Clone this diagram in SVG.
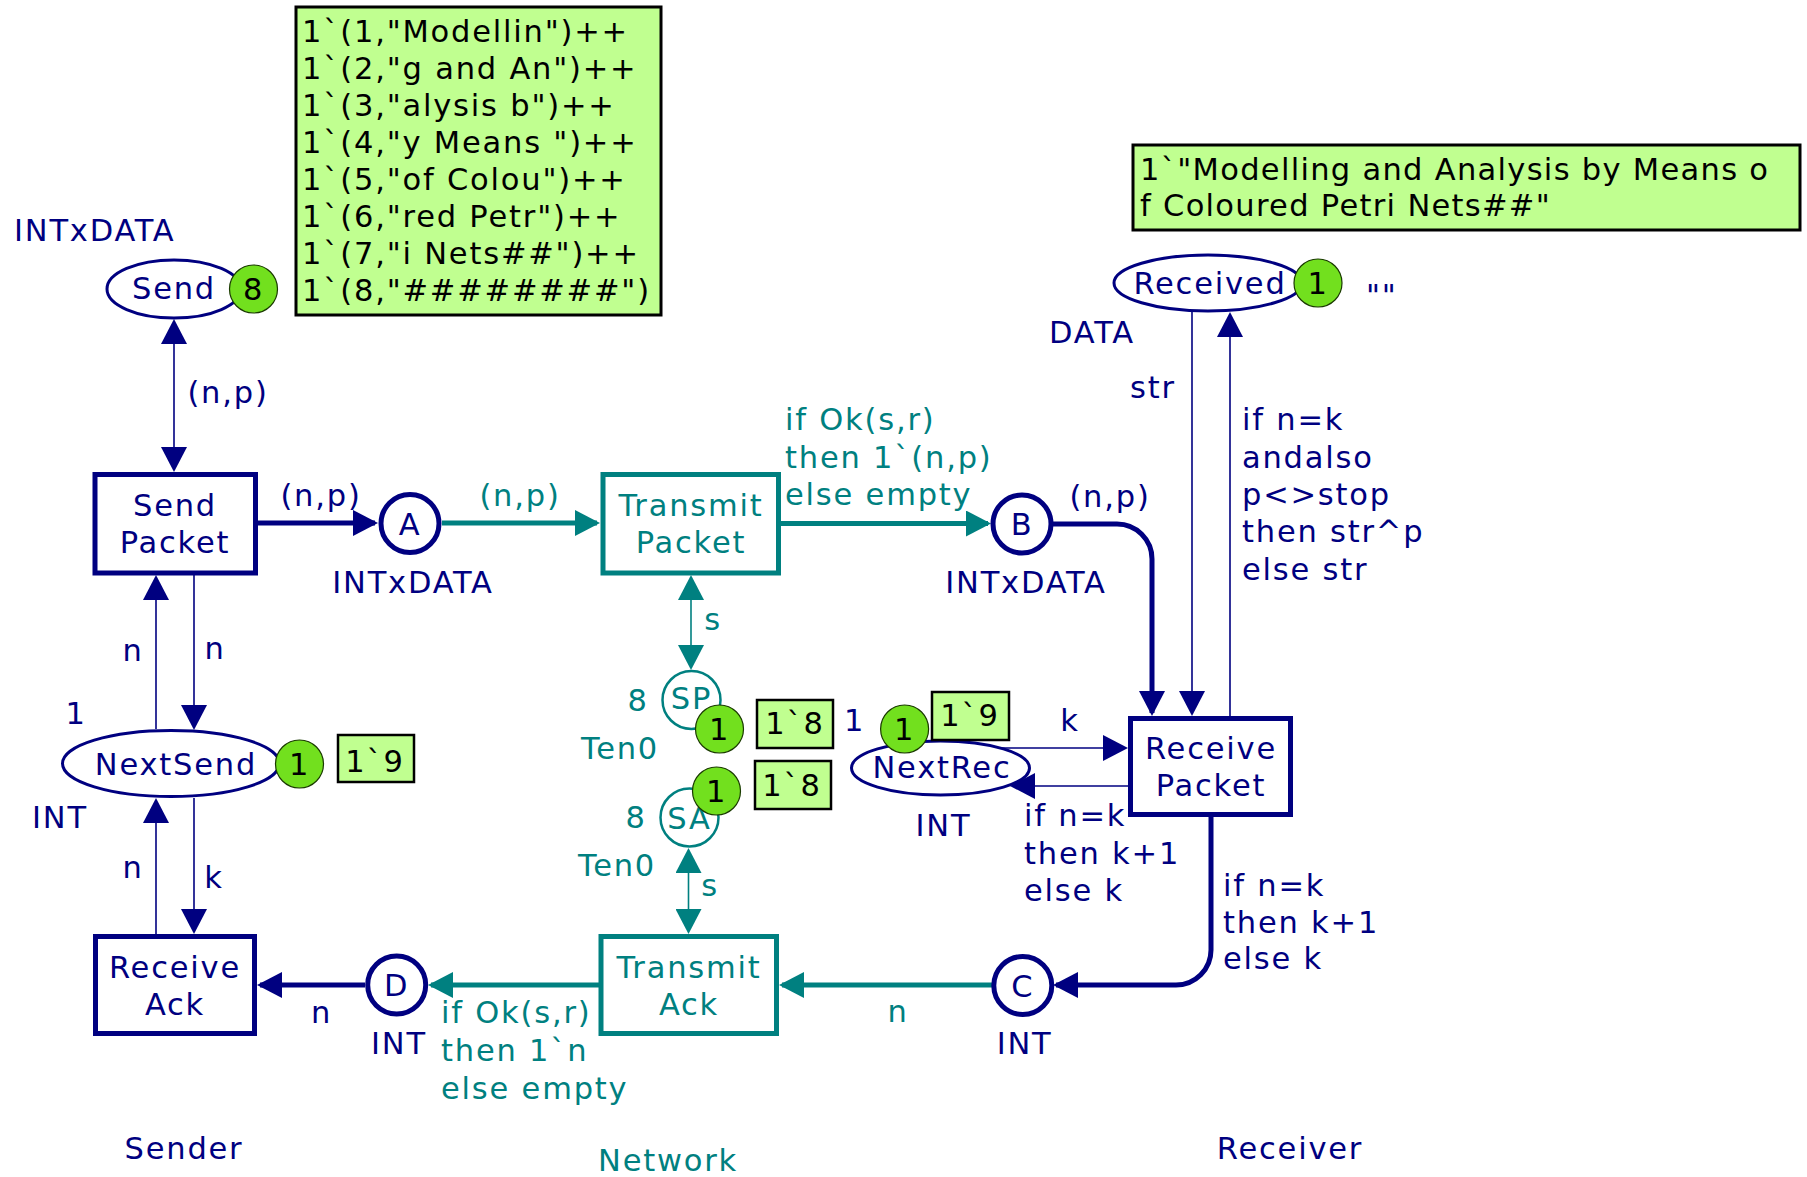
<svg xmlns="http://www.w3.org/2000/svg" width="1807" height="1177" viewBox="0 0 1807 1177">
<style>
text{font-family:"DejaVu Sans","Liberation Sans",sans-serif;font-size:30.5px;letter-spacing:1.8px}
.nv{fill:#000080}.tl{fill:#008080}.bk{fill:#000}
.m{text-anchor:middle}
.pl{fill:#fff;stroke:#000080;stroke-width:3}
.plb{fill:#fff;stroke:#000080;stroke-width:5}
.plt{fill:#fff;stroke:#008080;stroke-width:2.5}
.trn{fill:#fff;stroke:#000080;stroke-width:5}
.trt{fill:#fff;stroke:#008080;stroke-width:5}
.tok{fill:#72e01e;stroke:#1a3a00;stroke-width:1.2}
.box{fill:#c0ff90;stroke:#000;stroke-width:2.5}
.an{fill:none;stroke:#000080;stroke-width:1.6}
.ant{fill:none;stroke:#000080;stroke-width:5}
.at{fill:none;stroke:#008080;stroke-width:1.6}
.att{fill:none;stroke:#008080;stroke-width:5}
</style>
<defs>
<marker id="mn" viewBox="0 0 25 26" refX="22" refY="13" markerWidth="25" markerHeight="26" orient="auto-start-reverse" markerUnits="userSpaceOnUse"><path d="M0,0 L25,13 L0,26 z" fill="#000080"/></marker>
<marker id="mt" viewBox="0 0 25 26" refX="22" refY="13" markerWidth="25" markerHeight="26" orient="auto-start-reverse" markerUnits="userSpaceOnUse"><path d="M0,0 L25,13 L0,26 z" fill="#008080"/></marker>
</defs>

<g id="connectors">
<line class="an" x1="174" y1="469" x2="174" y2="322" marker-start="url(#mn)" marker-end="url(#mn)"/>
<line class="ant" x1="258" y1="523" x2="375" y2="523" marker-end="url(#mn)"/>
<line class="att" x1="442" y1="523" x2="597" y2="523" marker-end="url(#mt)"/>
<line class="att" x1="781" y1="523.5" x2="988" y2="523.5" marker-end="url(#mt)"/>
<path class="ant" d="M1053,524 H1117 A35,35 0 0 1 1152,559 V713" marker-end="url(#mn)"/>
<line class="an" x1="1192" y1="312" x2="1192" y2="713" marker-end="url(#mn)"/>
<line class="an" x1="1230" y1="716" x2="1230" y2="315" marker-end="url(#mn)"/>
<line class="an" x1="156" y1="729" x2="156" y2="578" marker-end="url(#mn)"/>
<line class="an" x1="194" y1="575" x2="194" y2="727" marker-end="url(#mn)"/>
<line class="an" x1="156" y1="934" x2="156" y2="801" marker-end="url(#mn)"/>
<line class="an" x1="194" y1="798" x2="194" y2="931" marker-end="url(#mn)"/>
<line class="ant" x1="365" y1="985" x2="260" y2="985" marker-end="url(#mn)"/>
<line class="att" x1="599" y1="985" x2="431" y2="985" marker-end="url(#mt)"/>
<line class="att" x1="992" y1="985" x2="782" y2="985" marker-end="url(#mt)"/>
<path class="ant" d="M1211,817 V950 A35,35 0 0 1 1176,985 H1056" marker-end="url(#mn)"/>
<line class="at" x1="691" y1="578" x2="691" y2="667" marker-start="url(#mt)" marker-end="url(#mt)"/>
<line class="at" x1="688.5" y1="851" x2="688.5" y2="931" marker-start="url(#mt)" marker-end="url(#mt)"/>
<line class="an" x1="1000" y1="748" x2="1125" y2="748" marker-end="url(#mn)"/>
<line class="an" x1="1128" y1="786" x2="1013" y2="786" marker-end="url(#mn)"/>
<g class="nv">
<text class="m" x="228" y="403">(n,p)</text>
<text class="m" x="321" y="506">(n,p)</text>
<text class="m" x="1110" y="507">(n,p)</text>
<text class="m" x="1153" y="398">str</text>
<text x="1242" y="430">if n=k</text>
<text x="1242" y="467.5">andalso</text>
<text x="1242" y="505">p&lt;&gt;stop</text>
<text x="1242" y="542">then str^p</text>
<text x="1242" y="579.5">else str</text>
<text class="m" x="133" y="661">n</text>
<text class="m" x="215" y="659">n</text>
<text class="m" x="133" y="878">n</text>
<text class="m" x="214" y="888">k</text>
<text class="m" x="321.5" y="1023">n</text>
<text class="m" x="1070" y="731">k</text>
<text x="1024" y="826">if n=k</text>
<text x="1024" y="863.5">then k+1</text>
<text x="1024" y="901">else k</text>
<text x="1223" y="896">if n=k</text>
<text x="1223" y="933">then k+1</text>
<text x="1223" y="969">else k</text>
</g>
<g class="tl">
<text class="m" x="520" y="506">(n,p)</text>
<text x="785" y="430">if Ok(s,r)</text>
<text x="785" y="467.5">then 1`(n,p)</text>
<text x="785" y="505">else empty</text>
<text x="441" y="1023">if Ok(s,r)</text>
<text x="441" y="1061">then 1`n</text>
<text x="441" y="1099">else empty</text>
<text class="m" x="898" y="1022">n</text>
<text class="m" x="713" y="630">s</text>
<text class="m" x="710" y="896">s</text>
</g>
</g>

<g id="initmark-send">
<rect class="box" x="296" y="7" width="365" height="308" style="stroke-width:3"/>
<g class="bk">
<text x="302" y="42">1`(1,"Modellin")++</text>
<text x="302" y="79">1`(2,"g and An")++</text>
<text x="302" y="116">1`(3,"alysis b")++</text>
<text x="302" y="153">1`(4,"y Means ")++</text>
<text x="302" y="190">1`(5,"of Colou")++</text>
<text x="302" y="227">1`(6,"red Petr")++</text>
<text x="302" y="264">1`(7,"i Nets##")++</text>
<text x="302" y="301">1`(8,"########")</text>
</g>
</g>

<g id="marking-received">
<rect class="box" x="1133" y="145" width="667" height="85" style="stroke-width:3"/>
<text class="bk" x="1140" y="180" style="letter-spacing:1.3px">1`"Modelling and Analysis by Means o</text>
<text class="bk" x="1140" y="216" style="letter-spacing:1.3px">f Coloured Petri Nets##"</text>
</g>

<g id="Send">
<ellipse class="pl" cx="174" cy="289" rx="67" ry="29"/>
<text class="nv m" x="174" y="299">Send</text>
<text class="nv" x="14" y="241">INTxDATA</text>
<circle class="tok" cx="253.5" cy="289" r="24"/>
<text class="bk m" x="253.5" y="300">8</text>
</g>

<g id="SendPacket">
<rect class="trn" x="95" y="474.5" width="160.5" height="98.5"/>
<text class="nv m" x="175" y="516">Send</text>
<text class="nv m" x="175" y="553">Packet</text>
</g>

<g id="A">
<circle class="plb" cx="410" cy="523.5" r="29"/>
<text class="nv m" x="410" y="535">A</text>
<text class="nv m" x="413" y="593">INTxDATA</text>
</g>

<g id="TransmitPacket">
<rect class="trt" x="603" y="474.5" width="175.5" height="98.5"/>
<text class="tl m" x="691" y="516">Transmit</text>
<text class="tl m" x="691" y="553">Packet</text>
</g>

<g id="B">
<circle class="plb" cx="1022" cy="524" r="29"/>
<text class="nv m" x="1022" y="535">B</text>
<text class="nv m" x="1026" y="593">INTxDATA</text>
</g>

<g id="Received">
<ellipse class="pl" cx="1208" cy="283" rx="94" ry="28"/>
<text class="nv m" x="1210" y="294">Received</text>
<text class="nv m" x="1092" y="343">DATA</text>
<circle class="tok" cx="1318" cy="283" r="24"/>
<text class="bk m" x="1318" y="294">1</text>
<text class="nv" x="1366" y="306">""</text>
</g>

<g id="ReceivePacket">
<rect class="trn" x="1130.5" y="718.5" width="160" height="96"/>
<text class="nv m" x="1211" y="759">Receive</text>
<text class="nv m" x="1211" y="796">Packet</text>
</g>

<g id="NextSend">
<ellipse class="pl" cx="171" cy="763.5" rx="108.5" ry="33"/>
<text class="nv m" x="176" y="775">NextSend</text>
<text class="nv m" x="76" y="724">1</text>
<text class="nv m" x="60" y="828">INT</text>
<circle class="tok" cx="299.5" cy="764" r="24"/>
<text class="bk m" x="299.5" y="775">1</text>
<rect class="box" x="338" y="735" width="76" height="47"/>
<text class="bk m" x="375" y="772">1`9</text>
</g>

<g id="ReceiveAck">
<rect class="trn" x="95.5" y="936.5" width="159" height="97"/>
<text class="nv m" x="175" y="978">Receive</text>
<text class="nv m" x="175" y="1015">Ack</text>
</g>

<g id="D">
<circle class="plb" cx="396.7" cy="985" r="29"/>
<text class="nv m" x="396.7" y="996">D</text>
<text class="nv m" x="399" y="1054">INT</text>
</g>

<g id="TransmitAck">
<rect class="trt" x="601" y="936.5" width="175.5" height="97"/>
<text class="tl m" x="689" y="978">Transmit</text>
<text class="tl m" x="689" y="1015">Ack</text>
</g>

<g id="C">
<circle class="plb" cx="1022.8" cy="985.5" r="29"/>
<text class="nv m" x="1022.8" y="997">C</text>
<text class="nv m" x="1024.6" y="1054">INT</text>
</g>

<g id="SP">
<circle class="plt" cx="691.5" cy="700" r="29"/>
<text class="tl m" x="691.5" y="709">SP</text>
<text class="tl m" x="638" y="711">8</text>
<text class="tl m" x="620" y="759">Ten0</text>
<circle class="tok" cx="719.5" cy="729" r="24"/>
<text class="bk m" x="719.5" y="740">1</text>
<rect class="box" x="757" y="700" width="76" height="48"/>
<text class="bk m" x="795" y="734">1`8</text>
</g>

<g id="SA">
<circle class="plt" cx="689.5" cy="817.5" r="29"/>
<text class="tl m" x="689.5" y="829">SA</text>
<text class="tl m" x="636" y="828">8</text>
<text class="tl m" x="617" y="876">Ten0</text>
<circle class="tok" cx="716.5" cy="791" r="24"/>
<text class="bk m" x="716.5" y="802">1</text>
<rect class="box" x="755" y="761" width="76" height="48"/>
<text class="bk m" x="792" y="796">1`8</text>
</g>

<g id="NextRec">
<ellipse class="pl" cx="940.5" cy="768" rx="89" ry="27"/>
<text class="nv m" x="942" y="778">NextRec</text>
<text class="nv m" x="854.5" y="731">1</text>
<text class="nv m" x="943.5" y="836">INT</text>
<circle class="tok" cx="904.6" cy="729" r="24"/>
<text class="bk m" x="904.6" y="740">1</text>
<rect class="box" x="932" y="692" width="77" height="48"/>
<text class="bk m" x="970" y="726">1`9</text>
</g>

<g id="labels">
<text class="nv m" x="184" y="1159">Sender</text>
<text class="tl m" x="668" y="1171">Network</text>
<text class="nv m" x="1290" y="1159">Receiver</text>
</g>
</svg>
